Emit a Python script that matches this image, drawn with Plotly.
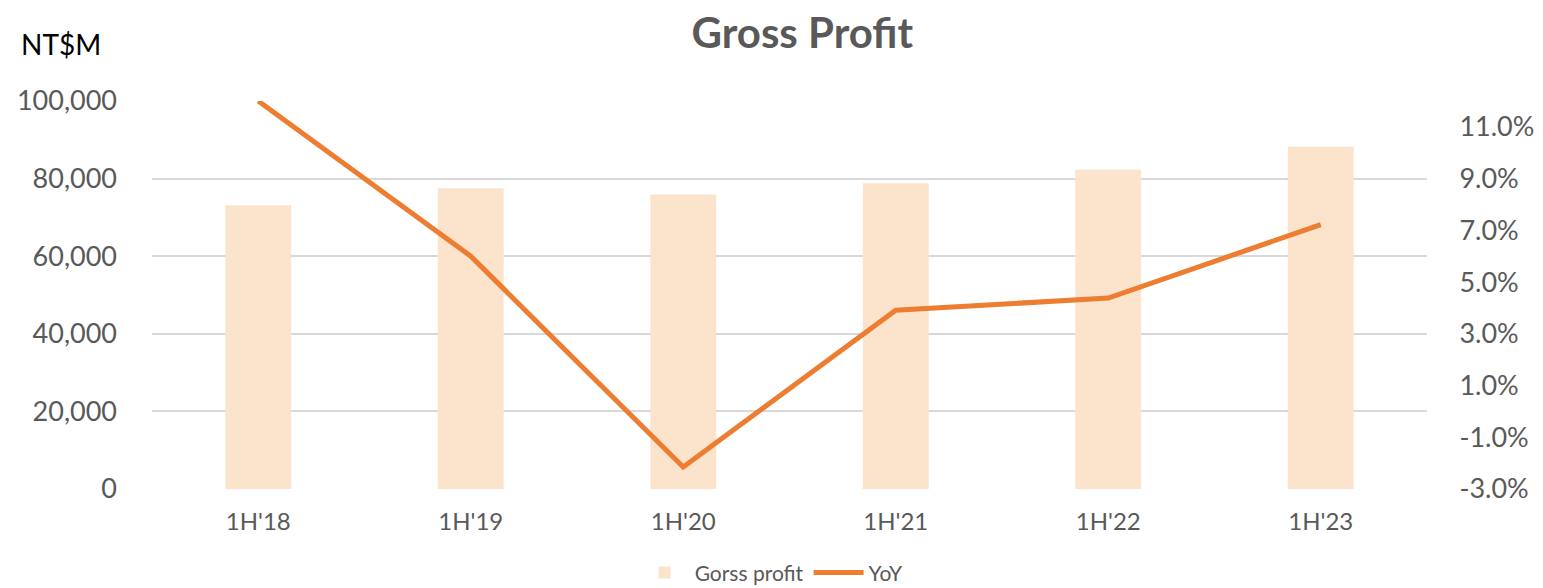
import plotly.graph_objects as go

categories = ["1H'18", "1H'19", "1H'20", "1H'21", "1H'22", "1H'23"]
gross_profit = [73100, 77500, 75900, 78800, 82300, 88200]
yoy_pct = [12.0, 6.0, -2.15, 3.91, 4.38, 7.22]

left_ticks = [0, 20000, 40000, 60000, 80000, 100000]
right_ticks = [-3, -1, 1, 3, 5, 7, 9, 11]
right_labels = [f"{v:.1f}%" for v in right_ticks]

FONT = "Lato, 'Open Sans', sans-serif"
GRAY = "#595959"

fig = go.Figure()
fig.add_trace(go.Bar(
    x=categories, y=gross_profit, name="Gorss profit",
    marker=dict(color="#FCE4CC", line=dict(width=0)),
    width=0.31, yaxis="y",
))
fig.add_trace(go.Scatter(
    x=categories, y=yoy_pct, name="YoY", mode="lines",
    line=dict(color="#ED7D31", width=5), yaxis="y2", cliponaxis=True,
))

fig.update_layout(
    width=1543, height=588,
    margin=dict(l=152, r=116, t=101, b=99, autoexpand=False),
    paper_bgcolor="white", plot_bgcolor="white",
    font=dict(family=FONT, color=GRAY),
    title=dict(text="<b>Gross Profit</b>", x=0.52, xanchor="center", y=0.944, yanchor="middle",
               font=dict(size=42, color=GRAY, family=FONT)),
    xaxis=dict(showgrid=False, showline=False, ticks="", tickfont=dict(size=24, color=GRAY),
               ticklabelstandoff=16),
    yaxis=dict(range=[0, 100000], tickvals=left_ticks, tickformat=",d",
               showgrid=True, gridcolor="#D9D9D9", gridwidth=1.5, zeroline=False,
               showline=False, tickfont=dict(size=27, color=GRAY), ticklabelstandoff=34),
    yaxis2=dict(overlaying="y", side="right", range=[-3, 12], tickvals=right_ticks,
                ticktext=right_labels, showgrid=False, zeroline=False,
                ticks="outside", ticklen=26, tickcolor="rgba(0,0,0,0)",
                showline=False, tickfont=dict(size=27, color=GRAY)),
    legend=dict(orientation="h", x=0.486, xanchor="center", y=-0.216, yanchor="middle",
                font=dict(size=21, color=GRAY), itemwidth=50),
    showlegend=True,
)
fig.add_annotation(text="NT$M", xref="paper", yref="paper", x=-0.1043, y=1.147,
                   xanchor="left", yanchor="middle", showarrow=False,
                   font=dict(size=28, color="black", family=FONT))

fig.write_html("out.html", post_script="document.body.style.margin='0';",
               config={"displayModeBar": False})
